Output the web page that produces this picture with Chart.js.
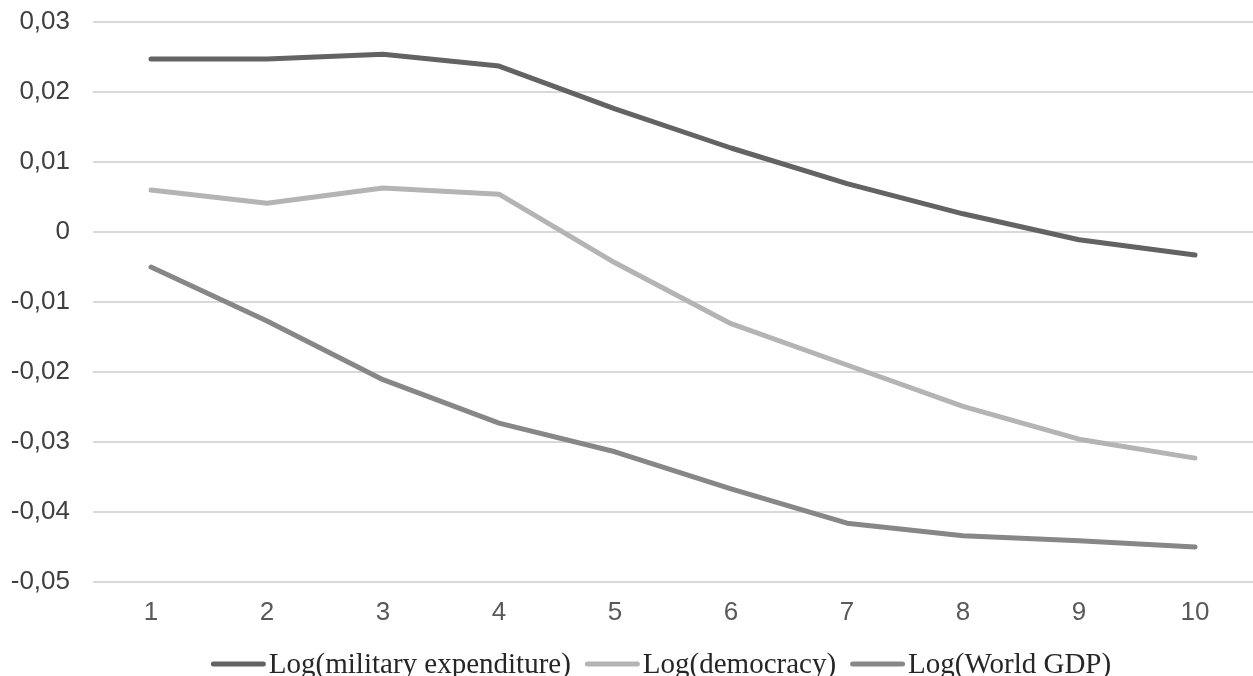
<!DOCTYPE html>
<html>
<head>
<meta charset="utf-8">
<script src="https://cdn.jsdelivr.net/npm/chart.js@4/dist/chart.umd.min.js"></script>
<style>
    html, body { margin: 0; padding: 0; background: #fff; }
    #wrap { width: 1253px; height: 676px; }
</style>
</head>
<body>
<div id="wrap"><canvas id="mychart" width="1253" height="676"></canvas></div>
<script>
const periods = ['1', '2', '3', '4', '5', '6', '7', '8', '9', '10'];
const militaryExp = [0.0247, 0.0247, 0.0254, 0.0237, 0.0176, 0.0120, 0.0069, 0.0026, -0.0011, -0.0033];
const democracy = [0.0060, 0.0041, 0.0063, 0.0054, -0.0044, -0.0131, -0.0190, -0.0249, -0.0296, -0.0323];
const worldGdp = [-0.0050, -0.0127, -0.0211, -0.0273, -0.0314, -0.0367, -0.0416, -0.0434, -0.0441, -0.0450];

const seriesNames = ['Log(military expenditure)', 'Log(democracy)', 'Log(World GDP)'];
const seriesColors = ['#636363', '#b4b4b4', '#878787'];

const formatTick = (value) => {
    const v = Math.round(value * 100) / 100;
    if (v === 0) {
        return '0';
    }
    return v.toFixed(2).replace('.', ',');
}

const makeDataset = (i, values) => {
    return {
        label: seriesNames[i],
        data: values,
        borderColor: seriesColors[i],
        backgroundColor: seriesColors[i],
        borderWidth: 5,
        borderCapStyle: 'round',
        borderJoinStyle: 'round',
        pointRadius: 0,
        tension: 0
    };
}

// legend drawn by hand so the line swatch sits right against the text
const bottomLegend = {
    id: 'bottomLegend',
    afterDraw(chart) {
        const c = chart.ctx;
        const swatch = 55, gapText = 3, gapItem = 14;
        c.save();
        c.font = '29px "Liberation Serif"';
        const items = chart.data.datasets.map((ds) => {
            return { text: ds.label, color: ds.borderColor, w: c.measureText(ds.label).width };
        });
        let total = 0;
        items.forEach((it, i) => {
            total += swatch + gapText + it.w + (i > 0 ? gapItem : 0);
        });
        let x = 661 - total / 2;
        const lineY = 664;
        items.forEach((it) => {
            c.strokeStyle = it.color;
            c.lineWidth = 5;
            c.lineCap = 'round';
            c.beginPath();
            c.moveTo(x + 2.5, lineY);
            c.lineTo(x + swatch - 2.5, lineY);
            c.stroke();
            c.fillStyle = '#262626';
            c.textBaseline = 'alphabetic';
            c.textAlign = 'left';
            c.fillText(it.text, x + swatch + gapText, 673);
            x += swatch + gapText + it.w + gapItem;
        });
        c.restore();
    }
};

let ctx = document.getElementById('mychart').getContext('2d');

new Chart(ctx, {
    type: 'line',
    data: {
        labels: periods,
        datasets: [
            makeDataset(0, militaryExp),
            makeDataset(1, democracy),
            makeDataset(2, worldGdp)
        ]
    },
    options: {
        responsive: false,
        animation: false,
        layout: {
            padding: { top: 22, right: 0, left: 0, bottom: 44 }
        },
        scales: {
            x: {
                offset: true,
                afterFit: (scale) => {
                    scale.height = 50;
                    scale.paddingLeft = 0;
                    scale.paddingRight = 0;
                },
                grid: { display: false, drawTicks: false },
                border: { display: false },
                ticks: {
                    color: '#595959',
                    font: { family: 'Liberation Sans', size: 26 },
                    padding: 15
                }
            },
            y: {
                min: -0.05,
                max: 0.03,
                afterFit: (scale) => {
                    scale.width = 93;
                    scale.paddingTop = 0;
                    scale.paddingBottom = 0;
                },
                grid: { color: '#d9d9d9', lineWidth: 2, drawTicks: false },
                border: { display: false },
                ticks: {
                    stepSize: 0.01,
                    color: '#404040',
                    font: { family: 'Liberation Sans', size: 26 },
                    padding: 23,
                    callback: formatTick
                }
            }
        },
        plugins: {
            legend: { display: false },
            tooltip: { enabled: false }
        }
    },
    plugins: [bottomLegend]
});
</script>
</body>
</html>
